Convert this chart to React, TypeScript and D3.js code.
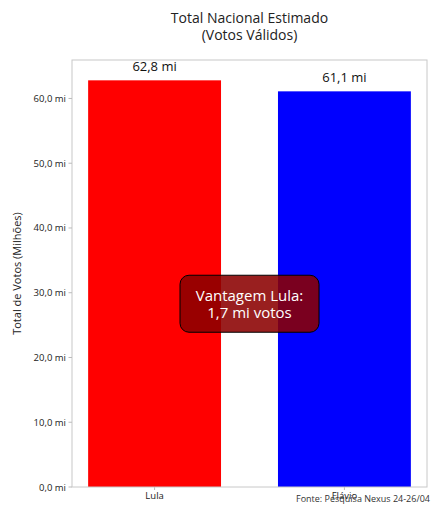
import React from "react";
import * as d3 from "d3";

const candidates = ["Lula", "Flávio"];
const votes = [62.8, 61.1];
const voteLabels = ["62,8 mi", "61,1 mi"];
const colors = ["#ff0000", "#0000ff"];
const yTicks = [0, 10, 20, 30, 40, 50, 60];
const titleLines = ["Total Nacional Estimado", "(Votos Válidos)"];
const annotationLines = ["Vantagem Lula:", "1,7 mi votos"];
const annotationY = 28.3;
const sourceText = "Fonte: Pesquisa Nexus 24-26/04";
const yLabel = "Total de Votos (Milhões)";

const W = 439;
const H = 512;
const FONT = "'Open Sans', Roboto, sans-serif";

export default function App() {
  const left = 72, right = 427, top = 60, bottom = 487;
  const barW = 0.7;
  const ymax = d3.max(votes)! * 1.05;
  const x = d3.scaleLinear().domain([-0.435, candidates.length - 1 + 0.435]).range([left, right]);
  const y = d3.scaleLinear().domain([0, ymax]).range([bottom, top]);
  const fmt = (v: number) => d3.format(".1f")(v).replace(".", ",") + " mi";
  const cx = (left + right) / 2;
  const boxW = 139, boxH = 57;
  const boxCy = y(annotationY);

  return (
    <svg width={W} height={H} style={{ position: "absolute", left: 0, top: 0, background: "#fff" }} fontFamily={FONT}>
      <rect width={W} height={H} fill="#fff" />
      {titleLines.map((t, i) => (
        <text key={t} x={cx} y={23 + i * 17} textAnchor="middle" fontSize={14} fill="#222">{t}</text>
      ))}
      {candidates.map((c, i) => (
        <g key={c}>
          <rect x={x(i - barW / 2)} y={y(votes[i])} width={x(i + barW / 2) - x(i - barW / 2)} height={y(0) - y(votes[i])} fill={colors[i]} />
          <text x={x(i)} y={y(votes[i]) - 9} textAnchor="middle" fontSize={13} fill="#111">{voteLabels[i]}</text>
          <line x1={x(i)} x2={x(i)} y1={bottom} y2={bottom + 3} stroke="#bbb" />
          <text x={x(i)} y={bottom + 12} textAnchor="middle" fontSize={9.5} fill="#222">{c}</text>
        </g>
      ))}
      <rect x={left} y={top} width={right - left} height={bottom - top} fill="none" stroke="#c8c8c8" strokeWidth={1} />
      {yTicks.map((t) => (
        <g key={t}>
          <line x1={left - 3.5} x2={left} y1={y(t)} y2={y(t)} stroke="#bbb" />
          <text x={left - 6} y={y(t) + 3.5} textAnchor="end" fontSize={9.5} fill="#222">{fmt(t)}</text>
        </g>
      ))}
      <text transform={`translate(21,${(top + bottom) / 2}) rotate(-90)`} textAnchor="middle" fontSize={11} fill="#222">{yLabel}</text>
      <rect x={cx - boxW / 2} y={boxCy - boxH / 2} width={boxW} height={boxH} rx={9} ry={9} fill="#8b0000" fillOpacity={0.88} stroke="#000" strokeWidth={1} />
      {annotationLines.map((t, i) => (
        <text key={t} x={cx} y={boxCy - 3 + i * 17} textAnchor="middle" fontSize={15} fill="#fff">{t}</text>
      ))}
      <text x={430} y={502} textAnchor="end" fontSize={9} fill="#333">{sourceText}</text>
    </svg>
  );
}
